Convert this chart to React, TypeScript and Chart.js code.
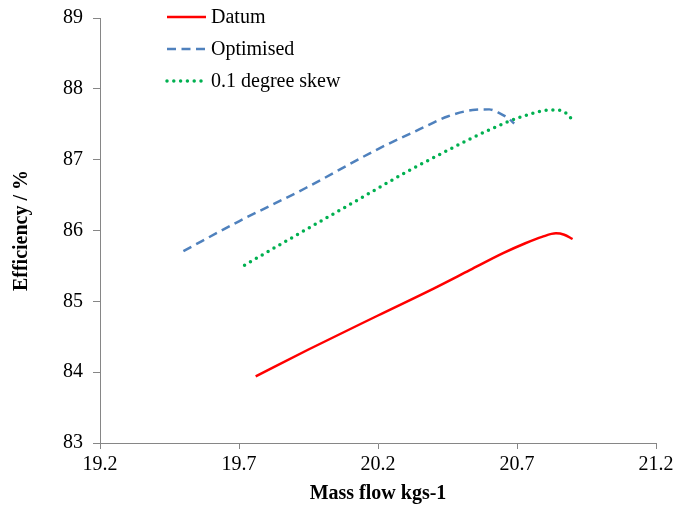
import React, { useEffect, useRef } from "react";
import { Chart, registerables } from "chart.js";

Chart.register(...registerables);

// Mass flow (kg/s) and isentropic efficiency (%) for each design
const datumFlow = [19.76, 19.95, 20.2, 20.4, 20.53, 20.65, 20.73, 20.79, 20.84, 20.87, 20.9];
const datumEff = [83.94, 84.32, 84.8, 85.18, 85.44, 85.68, 85.82, 85.91, 85.96, 85.94, 85.88];

const optimisedFlow = [19.5, 19.7, 19.94, 20.2, 20.35, 20.45, 20.54, 20.6, 20.64, 20.67, 20.69];
const optimisedEff = [85.71, 86.13, 86.6, 87.15, 87.43, 87.61, 87.7, 87.71, 87.65, 87.58, 87.51];

const skewFlow = [19.72, 19.9, 20.1, 20.3, 20.52, 20.6, 20.67, 20.72, 20.77, 20.82, 20.85, 20.87, 20.89, 20.9];
const skewEff = [85.51, 85.92, 86.37, 86.82, 87.27, 87.42, 87.54, 87.61, 87.67, 87.7, 87.7, 87.67, 87.61, 87.53];

const seriesNames = ["Datum", "Optimised", "0.1 degree skew"];
const flowTicks = [19.2, 19.7, 20.2, 20.7, 21.2];
const effTicks = [83, 84, 85, 86, 87, 88, 89];

const FONT = "'Liberation Serif', 'Times New Roman', serif";
const AXIS_GREY = "#868686";

const zip = (xs: number[], ys: number[]) => xs.map((x, i) => ({ x, y: ys[i] }));

// Vertical legend drawn inside the plot area, one line sample per series
const legendPlugin = {
  id: "insetLegend",
  afterDraw(chart: any) {
    const ctx = chart.ctx;
    const x0 = 167;
    const x1 = 206;
    const rowTop = 17;
    const rowGap = 32;
    ctx.save();
    ctx.font = `20px ${FONT}`;
    ctx.textBaseline = "middle";
    ctx.textAlign = "left";
    chart.data.datasets.forEach((ds: any, i: number) => {
      const y = rowTop + i * rowGap;
      ctx.beginPath();
      ctx.strokeStyle = ds.borderColor;
      ctx.lineWidth = ds.borderWidth;
      ctx.lineCap = ds.borderCapStyle || "butt";
      ctx.setLineDash(ds.borderDash || []);
      ctx.moveTo(x0, y);
      ctx.lineTo(x1, y);
      ctx.stroke();
      ctx.setLineDash([]);
      ctx.fillStyle = "#000";
      ctx.fillText(ds.label, x1 + 5, y + 1);
    });
    ctx.restore();
  },
};

export default function App() {
  const canvasRef = useRef<HTMLCanvasElement | null>(null);

  useEffect(() => {
    if (!canvasRef.current) return;
    const chart = new Chart(canvasRef.current, {
      type: "scatter",
      data: {
        datasets: [
          {
            label: seriesNames[0],
            data: zip(datumFlow, datumEff),
            showLine: true,
            borderColor: "#FF0000",
            backgroundColor: "#FF0000",
            borderWidth: 2.5,
            pointRadius: 0,
            cubicInterpolationMode: "monotone",
          },
          {
            label: seriesNames[1],
            data: zip(optimisedFlow, optimisedEff),
            showLine: true,
            borderColor: "#4F81BD",
            backgroundColor: "#4F81BD",
            borderWidth: 2.5,
            borderDash: [9, 5.5],
            pointRadius: 0,
            cubicInterpolationMode: "monotone",
          },
          {
            label: seriesNames[2],
            data: zip(skewFlow, skewEff),
            showLine: true,
            borderColor: "#00B050",
            backgroundColor: "#00B050",
            borderWidth: 3.5,
            borderDash: [0, 6.8],
            borderCapStyle: "round",
            pointRadius: 0,
            cubicInterpolationMode: "monotone",
          },
        ],
      },
      options: {
        responsive: false,
        animation: false,
        layout: { padding: { top: 18, right: 19, left: 0, bottom: 0 } },
        plugins: {
          legend: { display: false },
          tooltip: { enabled: false },
        },
        scales: {
          x: {
            type: "linear",
            min: 19.2,
            max: 21.2,
            afterBuildTicks: (scale: any) => {
              scale.ticks = flowTicks.map((v) => ({ value: v }));
            },
            afterFit: (scale: any) => {
              scale.height = 66;
              scale.paddingLeft = 0;
              scale.paddingRight = 0;
            },
            ticks: {
              color: "#000",
              font: { family: FONT, size: 20 },
              padding: 4,
              maxRotation: 0,
              autoSkip: false,
              callback: (v: any) => Number(v).toFixed(1),
            },
            grid: {
              drawOnChartArea: false,
              drawTicks: true,
              tickLength: 6,
              color: AXIS_GREY,
            },
            border: { color: AXIS_GREY, width: 1 },
            title: {
              display: true,
              text: "Mass flow kgs-1",
              color: "#000",
              font: { family: FONT, size: 20, weight: "bold" },
              padding: { top: 0, bottom: 3 },
            },
          },
          y: {
            type: "linear",
            min: 83,
            max: 89,
            afterBuildTicks: (scale: any) => {
              scale.ticks = effTicks.map((v) => ({ value: v }));
            },
            afterFit: (scale: any) => {
              scale.width = 100;
              scale.paddingTop = 0;
              scale.paddingBottom = 0;
            },
            ticks: {
              color: "#000",
              font: { family: FONT, size: 20 },
              padding: 10,
              autoSkip: false,
            },
            grid: {
              drawOnChartArea: false,
              drawTicks: true,
              tickLength: 7,
              color: AXIS_GREY,
            },
            border: { color: AXIS_GREY, width: 1 },
            title: {
              display: true,
              text: "Efficiency / %",
              color: "#000",
              font: { family: FONT, size: 20, weight: "bold" },
              padding: { top: 10, bottom: 0 },
            },
          },
        },
      },
      plugins: [legendPlugin],
    } as any);
    return () => chart.destroy();
  }, []);

  return (
    <div style={{ position: "absolute", left: 0, top: 0, width: 675, height: 509, background: "#fff" }}>
      <canvas ref={canvasRef} width={675} height={509} style={{ display: "block" }} />
    </div>
  );
}
